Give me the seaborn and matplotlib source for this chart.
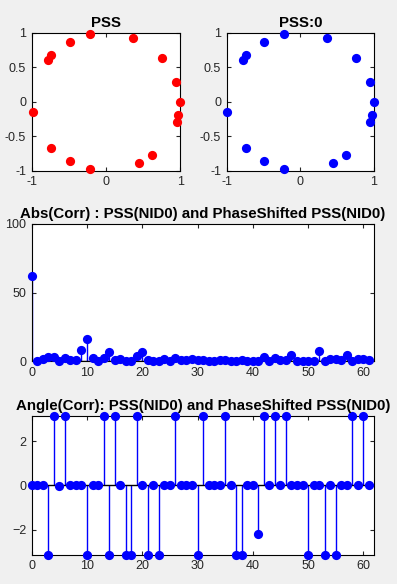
import numpy as np
import pandas as pd
import matplotlib
matplotlib.use("Agg")
import matplotlib.pyplot as plt
import seaborn as sns

# constellation points of PSS
pss_re = [-0.22, 0.36, -0.49, -0.74, -0.78, 0.76, 0.94, 1.00, 0.97, 0.95,
          -0.99, -0.74, -0.49, -0.22, 0.45, 0.62]
pss_im = [0.98, 0.93, 0.86, 0.67, 0.60, 0.64, 0.29, 0.00, -0.20, -0.29,
          -0.15, -0.68, -0.86, -0.98, -0.89, -0.77]

lags = list(range(62))

abs_corr = [62, 0.5, 1.7, 3.4, 3.0, 0.5, 2.7, 1.0, 1.0, 8.5,
            16, 2.2, 0.3, 2.2, 7.1, 1.0, 1.5, 0.5, 0.5, 4.0,
            6.6, 1.0, 0.5, 0.5, 2.0, 0.5, 2.5, 0.8, 1.0, 2.0,
            1.0, 1.2, 0.5, 0.5, 1.0, 1.0, 0.3, 0.5, 1.0, 0.5,
            0.3, 0.2, 3.0, 0.3, 2.2, 1.0, 1.0, 5.0, 0.5, 0.3,
            0.3, 0.3, 7.8, 0.3, 1.5, 1.7, 1.0, 4.4, 0.5, 1.7,
            1.7, 0.8]

P = np.pi
angle_corr = [0, 0, 0.02, -P, P, -0.02, P, 0, 0, 0.02,
              -P, 0, 0, P, -P, P, 0, -P, -P, P,
              0, -P, 0, -P, 0, 0, P, 0, 0, 0,
              -P, P, 0, 0, 0, P, 0, -P, -P, 0,
              0, -2.19, P, 0, P, 0, P, 0, 0, 0,
              -P, 0, 0, -P, 0, -P, 0, 0, P, 0,
              P, 0]

sns.set_style("ticks", {"xtick.direction": "in", "ytick.direction": "in"})
plt.rcParams["font.family"] = ["Liberation Sans", "DejaVu Sans"]
plt.rcParams["axes.linewidth"] = 0.8

fig = plt.figure(figsize=(3.97, 5.84), dpi=100, facecolor="#f0f0f0")

ax1 = fig.add_axes([0.080, 0.708, 0.374, 0.236])
ax2 = fig.add_axes([0.571, 0.708, 0.371, 0.236])
ax3 = fig.add_axes([0.080, 0.381, 0.863, 0.236])
ax4 = fig.add_axes([0.080, 0.050, 0.863, 0.238])

tick_col = "#262626"
ms = 44
title_kw = dict(fontsize=10.8, fontweight="bold", color="black", pad=4)

def style(ax):
    ax.set_facecolor("white")
    for s in ax.spines.values():
        s.set_color("black")
        s.set_linewidth(0.8)
    ax.tick_params(direction="in", top=True, right=True, length=3,
                   labelsize=9, colors=tick_col, pad=4)
    ax.set_xlabel("")
    ax.set_ylabel("")

pss = pd.DataFrame({"re": pss_re, "im": pss_im})
for ax, col, ttl in [(ax1, "red", "PSS"), (ax2, "blue", "PSS:0")]:
    sns.scatterplot(data=pss, x="re", y="im", color=col, s=ms, linewidth=0,
                    ax=ax, clip_on=False, zorder=3)
    ax.set_xlim(-1, 1)
    ax.set_ylim(-1, 1)
    ax.set_xticks([-1, 0, 1])
    ax.set_yticks([-1, -0.5, 0, 0.5, 1])
    ax.set_yticklabels(["-1", "-0.5", "0", "0.5", "1"])
    ax.set_xticklabels(["-1", "0", "1"])
    ax.set_title(ttl, **title_kw)
    style(ax)

corr = pd.DataFrame({"lag": lags, "abs": abs_corr, "ang": angle_corr})

# abs stem plot
ax3.vlines(corr["lag"], 0, corr["abs"], color="blue", lw=1, zorder=2)
ax3.axhline(0, color="black", lw=1, zorder=2)
sns.scatterplot(data=corr, x="lag", y="abs", color="blue", s=ms, linewidth=0,
                ax=ax3, clip_on=False, zorder=3)
ax3.set_xlim(0, 62)
ax3.set_ylim(0, 100)
ax3.set_xticks(range(0, 61, 10))
ax3.set_yticks([0, 50, 100])
ax3.set_title("Abs(Corr) : PSS(NID0) and PhaseShifted PSS(NID0)", **title_kw)
style(ax3)

# angle stem plot
ax4.vlines(corr["lag"], 0, corr["ang"], color="blue", lw=1, zorder=2)
ax4.axhline(0, color="black", lw=1, zorder=2)
sns.scatterplot(data=corr, x="lag", y="ang", color="blue", s=ms, linewidth=0,
                ax=ax4, clip_on=False, zorder=3)
ax4.set_xlim(0, 62)
ax4.set_ylim(-np.pi, np.pi)
ax4.set_xticks(range(0, 61, 10))
ax4.set_yticks([-2, 0, 2])
ax4.set_title("Angle(Corr): PSS(NID0) and PhaseShifted PSS(NID0)", **title_kw)
style(ax4)

fig.savefig("out.png", dpi=100, facecolor=fig.get_facecolor())
